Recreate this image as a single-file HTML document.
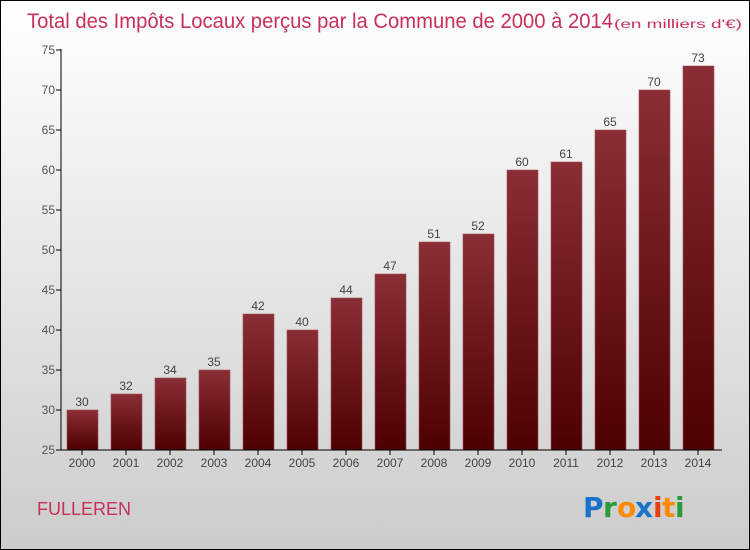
<!DOCTYPE html>
<html><head><meta charset="utf-8"><style>
body{margin:0}
#wrap{position:relative;width:748px;height:548px;border:1px solid #000;background:linear-gradient(#ffffff,#cccccc);font-family:"Liberation Sans","DejaVu Sans",sans-serif;overflow:hidden}
</style></head><body>
<div id="wrap">
<svg id="svg" width="748" height="548" xmlns="http://www.w3.org/2000/svg">
<defs><linearGradient id="bg" x1="0" y1="0" x2="0" y2="1"><stop offset="0" stop-color="#8a2e35"/><stop offset="1" stop-color="#4e0000"/></linearGradient></defs>
<text x="26" y="27" font-size="21" fill="#c8305a" textLength="586" lengthAdjust="spacingAndGlyphs">Total des Impôts Locaux perçus par la Commune de 2000 à 2014</text>
<text x="613" y="27" font-size="11.5" fill="#c8305a" textLength="128" lengthAdjust="spacingAndGlyphs">(en milliers d'€)</text>
<text x="36" y="514" font-size="18" fill="#c8305a">FULLEREN</text>
<g font-size="28" font-weight="bold" font-family="'DejaVu Sans',sans-serif">
<text x="582" y="516" fill="#1a73c8">P</text><text x="602" y="516" fill="#2a9a3a">r</text><text x="616" y="516" fill="#ff8a00">o</text><text x="634" y="516" fill="#1a73c8">x</text><text x="652" y="516" fill="#e84010">i</text><text x="661" y="516" fill="#ff8a00">t</text><text x="674" y="516" fill="#2a9a3a">i</text>
</g>
<g id="plot"></g>
</svg>
</div>
<script>
const years=["2000","2001","2002","2003","2004","2005","2006","2007","2008","2009","2010","2011","2012","2013","2014"];
const values=[30,32,34,35,42,40,44,47,51,52,60,61,65,70,73];
const yTicks=[25,30,35,40,45,50,55,60,65,70,75];
const NS="http://www.w3.org/2000/svg";
const g=document.getElementById('plot');
const y=v=>449-(v-25)*8;
const x=i=>81+i*44;
function mk(t,a){const e=document.createElementNS(NS,t);for(const k in a)e.setAttribute(k,a[k]);g.appendChild(e);return e;}
yTicks.forEach(v=>{
 const l=mk('line',{x1:55,x2:60,y1:y(v),y2:y(v),stroke:'#000'});
 
 
 const t=mk('text',{x:54,y:y(v)+4,'text-anchor':'end','font-size':12,fill:'#555'});t.textContent=v;
 
 
});
values.forEach((v,i)=>{
 const r=mk('rect',{x:x(i)-15,y:y(v),width:31,height:y(25)-y(v),fill:'url(#bg)',stroke:'#a05058','stroke-width':0.6});
 
 
 const t=mk('text',{x:x(i),y:y(v)-4,'text-anchor':'middle','font-size':12,fill:'#444'});t.textContent=v;
 
 
 const k=mk('line',{x1:x(i),x2:x(i),y1:449,y2:454,stroke:'#000'});
 
 
 const xl=mk('text',{x:x(i),y:466,'text-anchor':'middle','font-size':12,fill:'#444'});xl.textContent=years[i];
 
 
});
const ya=mk('line',{x1:60,x2:60,y1:48,y2:449,stroke:'#000'});


const xa=mk('line',{x1:60,x2:721,y1:449,y2:449,stroke:'#000'});


</script>
</body></html>
